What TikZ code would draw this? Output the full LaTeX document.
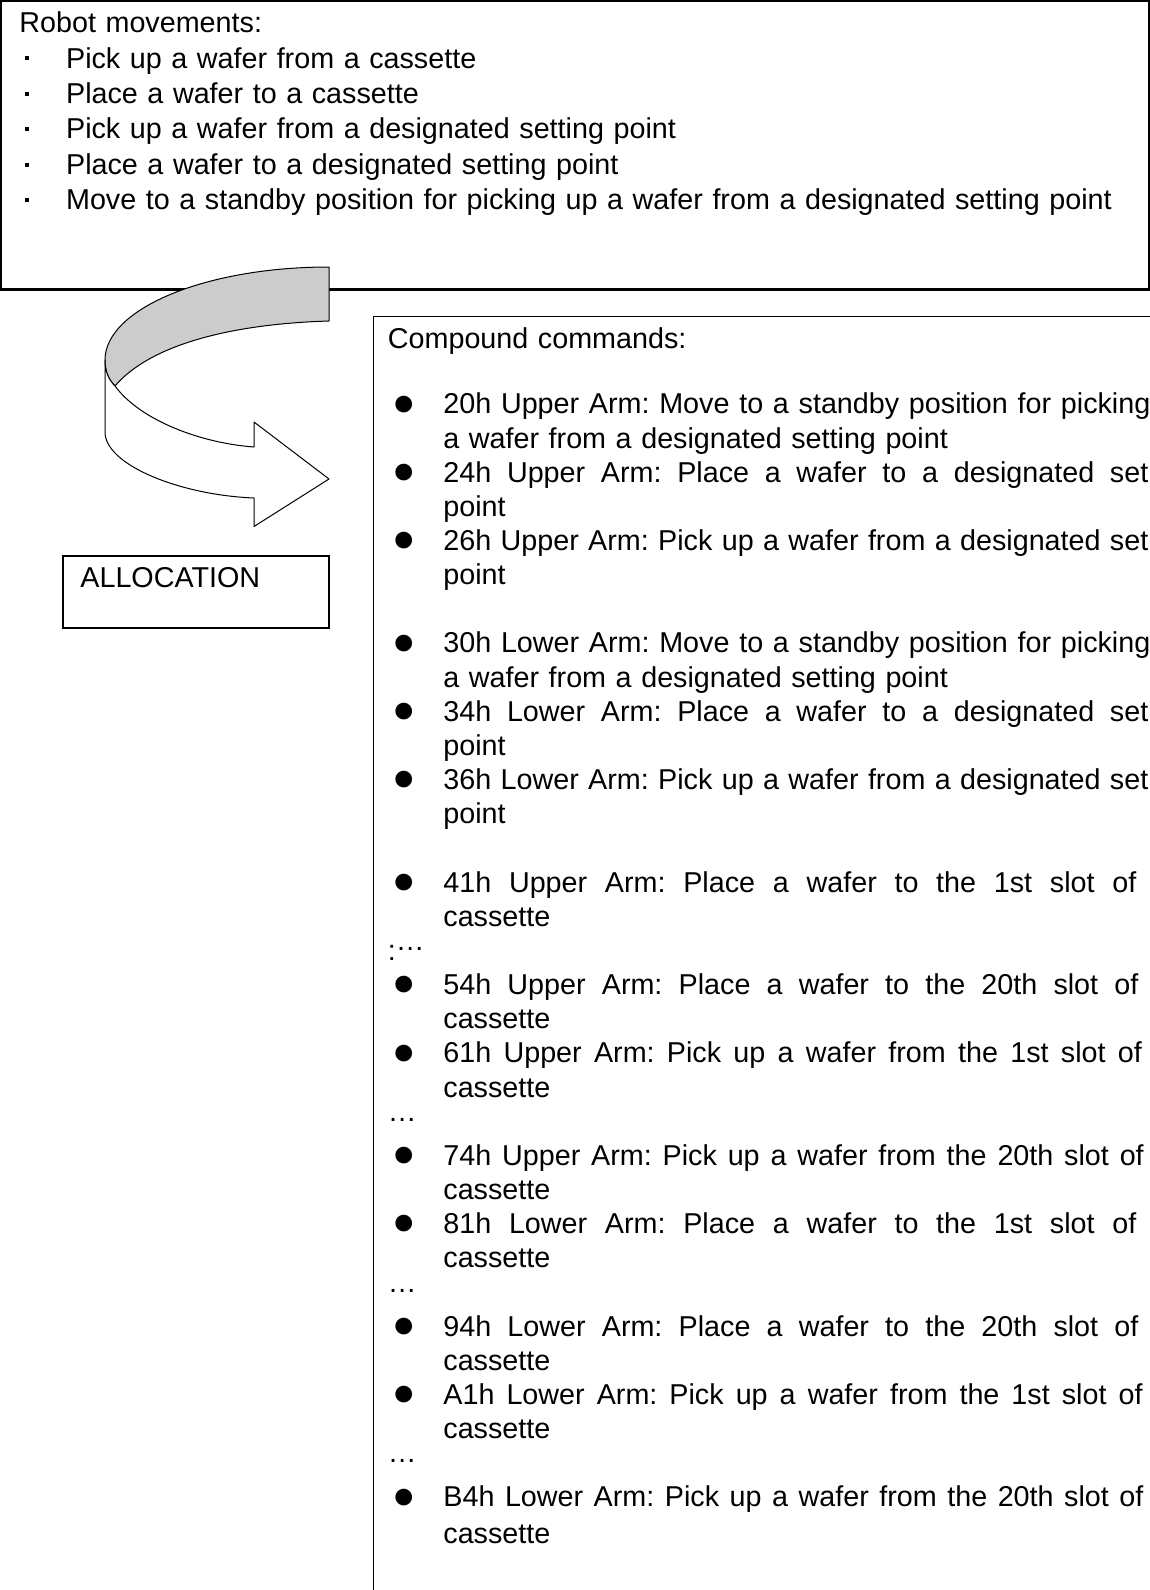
\documentclass[tikz,border=0pt]{standalone}
\usepackage{fontspec}
\setmainfont{Liberation Sans}
\usetikzlibrary{positioning}
\frenchspacing

% bullets, dots and justified lines used in the lists
\newcommand{\sqbul}{\makebox[23.35pt][l]{\hspace{3pt}\raisebox{3.8pt}{\rule{1.8pt}{2pt}}}}
\newcommand{\rndbul}{\makebox[27.75pt][l]{\hspace{2.5pt}\raisebox{-0.6pt}{\scalebox{1.35}{●}}}}
\newcommand{\hng}{\hspace*{27.75pt}}
\newcommand{\middots}{\raisebox{5pt}{…}}
\newcommand{\jline}[2]{{\spaceskip=\fontdimen2\font plus 1fil\relax\hbox to #1{#2}}}

\begin{document}
\begin{tikzpicture}[
  x=0.5pt, y=-0.5pt,
  font=\fontsize{14.36pt}{17.75pt}\selectfont,
  outer/.style={draw=black, line width=1.1pt},
  panel/.style={draw=black, line width=0.8pt},
  ribbon/.style={draw=black, line width=0.5pt, line join=round},
  txt/.style={anchor=base west, inner sep=0pt, align=left, text width=#1},
  txt/.default=560pt
]
\useasboundingbox (0,0) rectangle (1150,1590);

% Robot movements box
\draw[outer] (1,1) rectangle (1149,289.5);
\node[txt] (moves) at (19,32.5) {Robot movements:\\
  \sqbul Pick up a wafer from a cassette\\
  \sqbul Place a wafer to a cassette\\
  \sqbul Pick up a wafer from a designated setting point\\
  \sqbul Place a wafer to a designated setting point\\
  \sqbul Move to a standby position for picking up a wafer from a designated setting point};

% Curved arrow: grey upper face, then white front face with the head
\draw[ribbon, fill=black!20] (329,267) .. controls (205,267) and (105,309) .. (105,360)
  .. controls (105,372) and (109,380) .. (115,386)
  .. controls (150,345) and (230,324) .. (329,321) -- cycle;
\draw[ribbon, fill=white] (105,360) -- (105,432)
  .. controls (105,465) and (180,495) .. (254,498)
  -- (254,526.5) -- (329,479) -- (254,422) -- (254,447)
  .. controls (200,443) and (140,420) .. (115,386)
  .. controls (109,380) and (105,372) .. (105,360) -- cycle;

% Allocation label box
\draw[panel] (63,556) rectangle (329,628);
\node[txt=240pt] (alloc) at (80,587) {ALLOCATION};

% Compound commands box (runs off the page)
\draw[panel] (373.5,316.5) rectangle (1300,1700);
\node[txt=420pt, font=\fontsize{14.36pt}{17.08pt}\selectfont] (cmds) at (387.5,348.5) {Compound commands:\\[15.6pt]
  \rndbul\jline{353.5pt}{20h Upper Arm: Move to a standby position for picking}\\
  \hng a wafer from a designated setting point\\
  \rndbul\jline{352.5pt}{24h Upper Arm: Place a wafer to a designated set}\\
  \hng point\\
  \rndbul\jline{352.5pt}{26h Upper Arm: Pick up a wafer from a designated set}\\
  \hng point\\[17.08pt]
  \rndbul\jline{353.5pt}{30h Lower Arm: Move to a standby position for picking}\\
  \hng a wafer from a designated setting point\\
  \rndbul\jline{352.5pt}{34h Lower Arm: Place a wafer to a designated set}\\
  \hng point\\
  \rndbul\jline{352.5pt}{36h Lower Arm: Pick up a wafer from a designated set}\\
  \hng point\\[17.08pt]
  \rndbul\jline{346.5pt}{41h Upper Arm: Place a wafer to the 1st slot of}\\
  \hng cassette\\
  :\middots\\
  \rndbul\jline{347.5pt}{54h Upper Arm: Place a wafer to the 20th slot of}\\
  \hng cassette\\
  \rndbul\jline{349.25pt}{61h Upper Arm: Pick up a wafer from the 1st slot of}\\
  \hng cassette\\
  \middots\\
  \rndbul\jline{350.2pt}{74h Upper Arm: Pick up a wafer from the 20th slot of}\\
  \hng cassette\\
  \rndbul\jline{346.5pt}{81h Lower Arm: Place a wafer to the 1st slot of}\\
  \hng cassette\\
  \middots\\
  \rndbul\jline{347.5pt}{94h Lower Arm: Place a wafer to the 20th slot of}\\
  \hng cassette\\
  \rndbul\jline{349.6pt}{A1h Lower Arm: Pick up a wafer from the 1st slot of}\\
  \hng cassette\\
  \middots\\
  \rndbul\jline{350pt}{B4h Lower Arm: Pick up a wafer from the 20th slot of}\\[1pt]
  \hng cassette};

\end{tikzpicture}
\end{document}
